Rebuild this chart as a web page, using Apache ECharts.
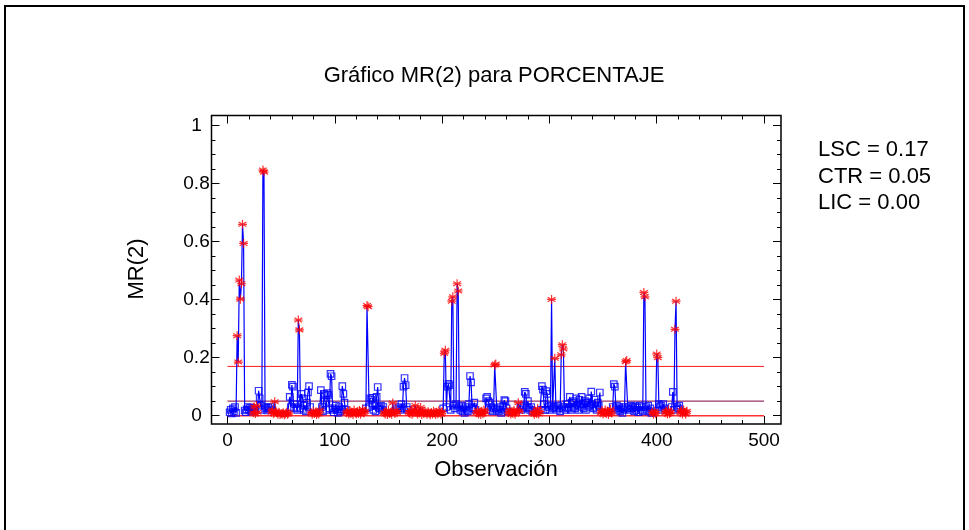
<!DOCTYPE html>
<html>
<head>
<meta charset="utf-8">
<title>Gráfico MR(2) para PORCENTAJE</title>
<script src="https://cdn.jsdelivr.net/npm/echarts@6/dist/echarts.min.js"></script>
<style>
  html, body { margin: 0; padding: 0; background: #fff; }
  #chart { width: 969px; height: 530px; }
</style>
</head>
<body>
<div id="chart"></div>
<script>
// Moving ranges of span 2; the first range belongs to observation 2.
const FIRST_OBS = 2;
const mrValues = [
  // obs 2-9
  0.012, 0.020, 0.008, 0.025, 0.015, 0.030, 0.010, 0.276,
  // obs 10-19
  0.185, 0.468, 0.402, 0.455, 0.660, 0.594, 0.018, 0.012, 0.022, 0.030,
  // obs 20-29
  0.020, 0.028, 0.015, 0.025, 0.010, 0.030, 0.008, 0.035, 0.012, 0.086,
  // obs 30-39
  0.060, 0.035, 0.020, 0.847, 0.840, 0.025, 0.030, 0.018, 0.028, 0.022,
  // obs 40-49
  0.030, 0.012, 0.020, 0.008, 0.048, 0.015, 0.010, 0.005, 0.012, 0.004,
  // obs 50-59
  0.008, 0.006, 0.010, 0.003, 0.007, 0.012, 0.005, 0.009, 0.065, 0.030,
  // obs 60-69
  0.106, 0.100, 0.025, 0.040, 0.030, 0.020, 0.330, 0.296, 0.025, 0.075,
  // obs 70-79
  0.060, 0.020, 0.035, 0.015, 0.045, 0.080, 0.102, 0.030, 0.010, 0.005,
  // obs 80-89
  0.015, 0.008, 0.012, 0.004, 0.010, 0.006, 0.020, 0.088, 0.030, 0.015,
  // obs 90-99
  0.075, 0.070, 0.020, 0.078, 0.072, 0.025, 0.144, 0.136, 0.020, 0.012,
  // obs 100-109
  0.025, 0.035, 0.020, 0.010, 0.030, 0.015, 0.022, 0.102, 0.075, 0.045,
  // obs 110-119
  0.020, 0.010, 0.015, 0.006, 0.018, 0.008, 0.012, 0.004, 0.020, 0.010,
  // obs 120-129
  0.006, 0.014, 0.008, 0.018, 0.005, 0.012, 0.022, 0.009, 0.015, 0.025,
  // obs 130-139
  0.380, 0.376, 0.030, 0.060, 0.055, 0.062, 0.020, 0.035, 0.015, 0.065,
  // obs 140-149
  0.099, 0.030, 0.025, 0.035, 0.020, 0.030, 0.010, 0.006, 0.014, 0.004,
  // obs 150-159
  0.020, 0.008, 0.012, 0.005, 0.044, 0.015, 0.008, 0.018, 0.010, 0.025,
  // obs 160-169
  0.030, 0.020, 0.040, 0.025, 0.100, 0.130, 0.105, 0.030, 0.020, 0.012,
  // obs 170-179
  0.008, 0.018, 0.005, 0.010, 0.022, 0.035, 0.012, 0.006, 0.015, 0.009,
  // obs 180-189
  0.028, 0.004, 0.012, 0.007, 0.016, 0.010, 0.005, 0.014, 0.008, 0.003,
  // obs 190-199
  0.011, 0.006, 0.015, 0.009, 0.004, 0.012, 0.007, 0.018, 0.010, 0.005,
  // obs 200-209
  0.014, 0.025, 0.215, 0.226, 0.030, 0.100, 0.110, 0.105, 0.020, 0.395,
  // obs 210-219
  0.410, 0.035, 0.025, 0.040, 0.455, 0.430, 0.030, 0.020, 0.035, 0.015,
  // obs 220-229
  0.025, 0.010, 0.030, 0.020, 0.015, 0.040, 0.137, 0.115, 0.025, 0.030,
  // obs 230-239
  0.045, 0.020, 0.010, 0.018, 0.006, 0.012, 0.004, 0.015, 0.008, 0.020,
  // obs 240-249
  0.012, 0.060, 0.065, 0.050, 0.045, 0.020, 0.030, 0.015, 0.025, 0.175,
  // obs 250-259
  0.178, 0.020, 0.025, 0.015, 0.030, 0.010, 0.020, 0.035, 0.054, 0.050,
  // obs 260-269
  0.025, 0.015, 0.010, 0.020, 0.006, 0.014, 0.008, 0.018, 0.005, 0.012,
  // obs 270-279
  0.020, 0.045, 0.015, 0.030, 0.020, 0.025, 0.035, 0.082, 0.075, 0.030,
  // obs 280-289
  0.050, 0.025, 0.020, 0.030, 0.015, 0.010, 0.005, 0.012, 0.008, 0.025,
  // obs 290-299
  0.006, 0.014, 0.020, 0.102, 0.090, 0.040, 0.020, 0.085, 0.075, 0.030,
  // obs 300-309
  0.020, 0.035, 0.401, 0.025, 0.030, 0.198, 0.030, 0.020, 0.035, 0.025,
  // obs 310-319
  0.015, 0.210, 0.245, 0.230, 0.030, 0.020, 0.040, 0.025, 0.030, 0.065,
  // obs 320-329
  0.020, 0.045, 0.030, 0.050, 0.025, 0.060, 0.035, 0.020, 0.055, 0.030,
  // obs 330-339
  0.065, 0.040, 0.025, 0.050, 0.020, 0.045, 0.030, 0.060, 0.035, 0.083,
  // obs 340-349
  0.040, 0.025, 0.055, 0.030, 0.020, 0.045, 0.035, 0.080, 0.010, 0.018,
  // obs 350-359
  0.006, 0.012, 0.020, 0.008, 0.015, 0.004, 0.012, 0.022, 0.009, 0.030,
  // obs 360-369
  0.109, 0.100, 0.025, 0.035, 0.020, 0.030, 0.015, 0.025, 0.010, 0.020,
  // obs 370-379
  0.030, 0.186, 0.190, 0.025, 0.030, 0.020, 0.035, 0.025, 0.030, 0.015,
  // obs 380-389
  0.032, 0.020, 0.028, 0.012, 0.035, 0.020, 0.030, 0.015, 0.425, 0.410,
  // obs 390-399
  0.030, 0.020, 0.035, 0.015, 0.025, 0.010, 0.012, 0.005, 0.015, 0.008,
  // obs 400-409
  0.213, 0.200, 0.040, 0.030, 0.035, 0.020, 0.040, 0.025, 0.010, 0.015,
  // obs 410-419
  0.006, 0.020, 0.008, 0.012, 0.030, 0.082, 0.020, 0.298, 0.395, 0.030,
  // obs 420-428
  0.025, 0.035, 0.010, 0.018, 0.006, 0.020, 0.012, 0.005, 0.015
];

// Observation ranges flagged by the runs rules (long runs below the centre line).
const runRanges = [
  [24, 28], [41, 57], [78, 86], [111, 128], [146, 158], [169, 200],
  [232, 240], [262, 272], [285, 291], [348, 358], [396, 399],
  [408, 413], [422, 428]
];

// Control limits
const LSC = 0.17;
const CTR = 0.05;
const LIC = 0.00;
const LIMIT_SPAN = [0, 500];

// Axis ticks and the visible range of each axis
const xTickValues = [0, 100, 200, 300, 400, 500];
const xMinorStep = 20;
const xRange = [-14.9, 515.8];
const yTickValues = [0, 0.2, 0.4, 0.6, 0.8, 1];
const yMinorStep = 0.05;
const yRange = [-0.0286, 1.0352];

const chartTitle = 'Gráfico MR(2) para PORCENTAJE';
const xTitle = 'Observación';
const yTitle = 'MR(2)';

const FONT = '"Liberation Sans", Arial, Helvetica, sans-serif';

function inRun(obs) {
  return runRanges.some(r => obs >= r[0] && obs <= r[1]);
}

const linePoints = [];
const normalPoints = [];
const flaggedPoints = [];
mrValues.forEach((v, i) => {
  const obs = FIRST_OBS + i;
  linePoints.push([obs, v]);
  if (v > LSC || v < LIC || inRun(obs)) flaggedPoints.push([obs, v]);
  else normalPoints.push([obs, v]);
});

// Minor tick positions between the labelled ticks, kept inside the visible range
function minorValues(major, step, range) {
  const out = [];
  const first = Math.ceil((range[0] + 1e-9) / step);
  const last = Math.floor((range[1] - 1e-9) / step);
  for (let k = first; k <= last; k++) {
    const v = +(k * step).toFixed(6);
    if (!major.some(m => Math.abs(m - v) < step / 10)) out.push(v);
  }
  return out;
}
const xMinor = minorValues(xTickValues, xMinorStep, xRange);
const yMinor = minorValues(yTickValues, yMinorStep, yRange);

const labelStyle = { fontSize: 19, color: '#000', fontFamily: FONT };

// One axis per frame side; grid 0 carries the labelled ticks, grid 1 the minor ones.
function tickAxis(kind, gridIndex, position, ticks, len, withLabels) {
  const range = kind === 'x' ? xRange : yRange;
  const axis = {
    type: 'value',
    gridIndex: gridIndex,
    position: position,
    min: range[0],
    max: range[1],
    axisLine: { show: false, onZero: false },
    axisTick: { show: true, inside: true, length: len, customValues: ticks,
                lineStyle: { color: '#000', width: 1 } },
    axisLabel: { show: false },
    splitLine: { show: false },
    minorTick: { show: false }
  };
  if (withLabels) {
    axis.axisLabel = Object.assign({ show: true, customValues: ticks,
      formatter: v => String(+v.toFixed(2)) }, labelStyle,
      kind === 'x' ? { margin: 7 } : { margin: 15, align: 'center' });
  }
  return axis;
}

function limitLine(value, color, width) {
  return {
    type: 'line',
    xAxisIndex: 0, yAxisIndex: 0,
    data: LIMIT_SPAN.map(x => [x, value]),
    symbol: 'none',
    silent: true,
    lineStyle: { color: color, width: width },
    z: 2
  };
}

const asterisk = 'path://M0,-5L0,5M-4.33,-2.5L4.33,2.5M-4.33,2.5L4.33,-2.5M-5,0L5,0';

const plotRect = { left: 211.5, right: 188, top: 115.5, bottom: 106, containLabel: false };

const chart = echarts.init(document.getElementById('chart'), null, { renderer: 'canvas' });

const option = {
  animation: false,
  backgroundColor: '#fff',
  textStyle: { fontFamily: FONT },
  grid: [
    Object.assign({ show: true, borderColor: '#000', borderWidth: 1.5, backgroundColor: 'transparent' }, plotRect),
    Object.assign({ show: false }, plotRect)
  ],
  xAxis: [
    tickAxis('x', 0, 'bottom', xTickValues, 8, true),
    tickAxis('x', 0, 'top', xTickValues, 8, false),
    tickAxis('x', 1, 'bottom', xMinor, 4, false),
    tickAxis('x', 1, 'top', xMinor, 4, false)
  ],
  yAxis: [
    tickAxis('y', 0, 'left', yTickValues, 8, true),
    tickAxis('y', 0, 'right', yTickValues, 8, false),
    tickAxis('y', 1, 'left', yMinor, 4, false),
    tickAxis('y', 1, 'right', yMinor, 4, false)
  ],
  series: [
    limitLine(LSC, '#ff1a1a', 1),
    limitLine(CTR, '#993366', 1.3),
    limitLine(LIC, '#ff3333', 1.5),
    {
      type: 'line',
      xAxisIndex: 0, yAxisIndex: 0,
      data: linePoints,
      symbol: 'none',
      lineStyle: { color: '#0000ff', width: 1.2 },
      z: 3
    },
    {
      type: 'scatter',
      xAxisIndex: 0, yAxisIndex: 0,
      data: normalPoints,
      symbol: 'rect',
      symbolSize: 6.5,
      itemStyle: { color: 'rgba(255,255,255,0)', borderColor: '#0000ff', borderWidth: 1.2 },
      z: 4
    },
    {
      type: 'scatter',
      xAxisIndex: 0, yAxisIndex: 0,
      data: flaggedPoints,
      symbol: asterisk,
      symbolKeepAspect: true,
      symbolSize: 9,
      itemStyle: { color: 'rgba(255,0,0,0)', borderColor: '#ff0000', borderWidth: 1.2 },
      z: 5
    }
  ],
  graphic: [
    // outer border of the figure
    { type: 'rect', shape: { x: 5, y: 6, width: 959, height: 530 },
      style: { fill: null, stroke: '#000', lineWidth: 2 }, silent: true, z: 0 },
    { type: 'text', x: 494, y: 76,
      style: { text: chartTitle, fill: '#000', font: '22px ' + FONT, textAlign: 'center', textVerticalAlign: 'middle' } },
    { type: 'text', x: 496, y: 470,
      style: { text: xTitle, fill: '#000', font: '22px ' + FONT, textAlign: 'center', textVerticalAlign: 'middle' } },
    { type: 'text', x: 137, y: 269, rotation: Math.PI / 2,
      style: { text: yTitle, fill: '#000', font: '22px ' + FONT, textAlign: 'center', textVerticalAlign: 'middle' } },
    { type: 'text', x: 818, y: 150,
      style: { text: 'LSC = ' + LSC.toFixed(2), fill: '#000', font: '22px ' + FONT, textAlign: 'left', textVerticalAlign: 'middle' } },
    { type: 'text', x: 818, y: 177,
      style: { text: 'CTR = ' + CTR.toFixed(2), fill: '#000', font: '22px ' + FONT, textAlign: 'left', textVerticalAlign: 'middle' } },
    { type: 'text', x: 818, y: 203,
      style: { text: 'LIC = ' + LIC.toFixed(2), fill: '#000', font: '22px ' + FONT, textAlign: 'left', textVerticalAlign: 'middle' } }
  ]
};

chart.setOption(option);
</script>
</body>
</html>
